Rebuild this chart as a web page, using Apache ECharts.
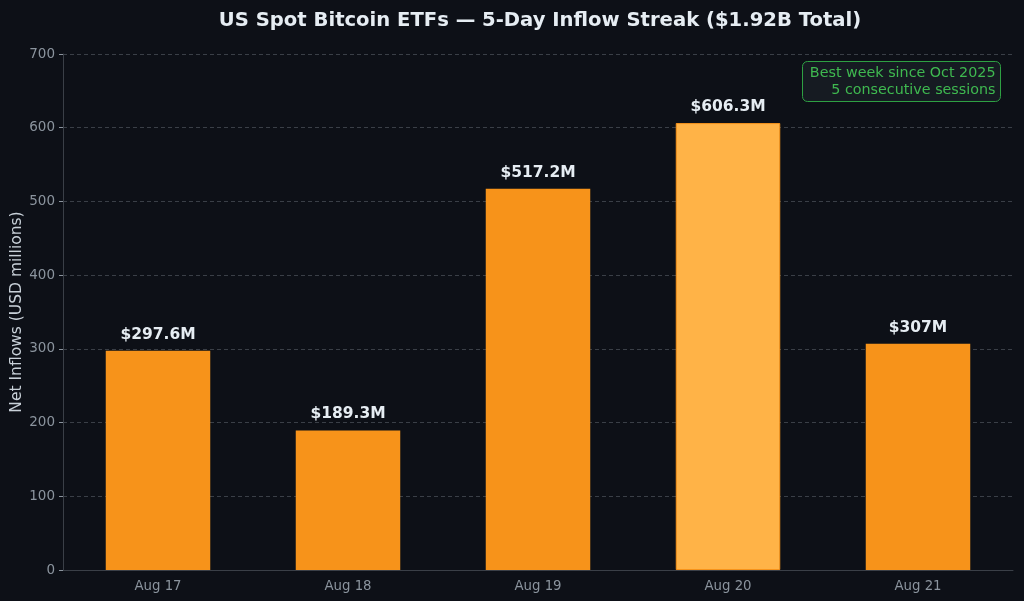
<!DOCTYPE html>
<html>
<head>
<meta charset="utf-8">
<script src="https://cdn.jsdelivr.net/npm/echarts@6/dist/echarts.min.js"></script>
<style>
  html, body { margin: 0; padding: 0; background: #0d1117; }
  #chart { width: 1024px; height: 601px; }
</style>
</head>
<body>
<div id="chart"></div>
<script>
// chart data
const days = ["Aug 17", "Aug 18", "Aug 19", "Aug 20", "Aug 21"];
const inflows = [297.6, 189.3, 517.2, 606.3, 307.0];
const valueLabels = ["$297.6M", "$189.3M", "$517.2M", "$606.3M", "$307M"];
const peakDay = "Aug 20";
const yTicks = [0, 100, 200, 300, 400, 500, 600, 700];
const noteLines = ["Best week since Oct 2025", "5 consecutive sessions"];

const font = "'DejaVu Sans', 'Noto Sans', sans-serif";

const chart = echarts.init(document.getElementById("chart"));

const barData = inflows.map((v, i) => {
  const isPeak = days[i] === peakDay;
  return {
    value: v,
    itemStyle: isPeak
      ? { color: "#ffb347", borderColor: "#f7931a", borderWidth: 1 }
      : { color: "#f7931a" }
  };
});

chart.setOption({
  backgroundColor: "#0d1017",
  animation: false,
  title: {
    text: "US Spot Bitcoin ETFs \u2014 5-Day Inflow Streak ($1.92B Total)",
    left: 535,
    textAlign: "center",
    top: 6,
    textStyle: { color: "#e6edf3", fontSize: 19.6, fontWeight: "bold", fontFamily: font }
  },
  grid: { left: 63, right: 11, top: 54, bottom: 31, outerBoundsMode: "none", containLabel: false },
  xAxis: {
    type: "category",
    data: days,
    axisLine: { lineStyle: { color: "#3a3f47" } },
    axisTick: { alignWithLabel: true, length: 4, lineStyle: { color: "#8b949e" } },
    axisLabel: { color: "#8b949e", fontSize: 13.3, fontFamily: font, margin: 10 }
  },
  yAxis: {
    type: "value",
    min: yTicks[0],
    max: yTicks[yTicks.length - 1],
    interval: 100,
    name: "Net Inflows (USD millions)",
    nameLocation: "middle",
    nameGap: 38,
    nameMoveOverlap: false,
    nameTextStyle: { color: "#c9d1d9", fontSize: 15.5, fontFamily: font },
    axisLine: { show: true, lineStyle: { color: "#3a3f47" } },
    axisTick: { show: true, length: 4, lineStyle: { color: "#8b949e" } },
    axisLabel: { color: "#8b949e", fontSize: 13.5, fontFamily: font, margin: 8 },
    splitLine: { lineStyle: { color: "#3a3f47", type: [4, 3] } }
  },
  series: [{
    type: "bar",
    data: barData,
    barWidth: "55%",
    label: {
      show: true,
      position: "top",
      distance: 8,
      color: "#e6edf3",
      fontSize: 15.5,
      fontWeight: "bold",
      fontFamily: font,
      formatter: p => valueLabels[p.dataIndex]
    }
  }],
  graphic: [{
    type: "group",
    right: 23,
    top: 61,
    children: [
      {
        type: "rect",
        shape: { x: 0, y: 0, width: 198, height: 40, r: 5 },
        style: { fill: "#161b22", stroke: "#2ea043", lineWidth: 1 }
      },
      {
        type: "text",
        x: 193, y: 12,
        style: { text: noteLines[0], align: "right", verticalAlign: "middle", fill: "#3fb950", font: "14.3px " + font }
      },
      {
        type: "text",
        x: 193, y: 29,
        style: { text: noteLines[1], align: "right", verticalAlign: "middle", fill: "#3fb950", font: "14.3px " + font }
      }
    ]
  }]
});
</script>
</body>
</html>
